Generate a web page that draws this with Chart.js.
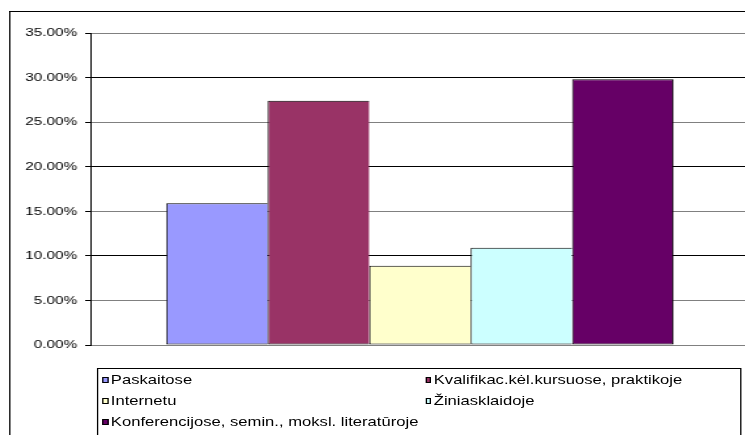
<!DOCTYPE html>
<html lang="lt">
<head>
    <meta charset="UTF-8">
    <title>Informacijos šaltiniai</title>
    <script src="https://cdn.jsdelivr.net/npm/chart.js"></script>
    <style>
        * {
            margin: 0;
            padding: 0;
            box-sizing: border-box;
        }

        html, body {
            width: 745px;
            height: 435px;
            overflow: hidden;
            background: #ffffff;
        }

        /* the original picture is stretched sideways, so draw narrow and widen */
        #stage {
            position: absolute;
            left: 0;
            top: 0;
            width: 580px;
            height: 435px;
            transform: scaleX(1.31);
            transform-origin: 0 0;
            font-family: 'Liberation Sans', Arial, sans-serif;
        }

        #chart {
            position: absolute;
            left: 0;
            top: 0;
        }

        .frame {
            position: absolute;
            left: 7px;
            top: 11px;
            width: 1000px;
            height: 1000px;
            border-left: 1px solid #000;
            border-top: 1px solid #000;
            pointer-events: none;
        }

        #legend {
            position: absolute;
            left: 74px;
            top: 368px;
            width: 492px;
            height: 100px;
            border: 1px solid #000;
            padding-left: 3px;
            display: grid;
            grid-template-columns: 246.5px auto;
            grid-auto-rows: 21px;
            font-size: 12.7px;
            color: #000;
        }

        #legend .item {
            display: flex;
            align-items: center;
            white-space: nowrap;
        }

        #legend .box {
            width: 4.6px;
            height: 6px;
            border: 1px solid #000;
            margin-right: 2px;
            flex: none;
        }
    </style>
</head>
<body>
    <div id="stage">
        <canvas id="chart" width="580" height="435"></canvas>
        <div class="frame"></div>
        <div id="legend"></div>
    </div>

    <script>
        // one group of answers, five sources
        const categories = [''];
        const seriesNames = [
            'Paskaitose',
            'Kvalifikac.kėl.kursuose, praktikoje',
            'Internetu',
            'Žiniasklaidoje',
            'Konferencijose, semin., moksl. literatūroje'
        ];
        const seriesValues = [15.9, 27.4, 8.9, 10.9, 29.8];
        const seriesColors = ['#9999FF', '#993366', '#FFFFCC', '#CCFFFF', '#660066'];

        const yMin = 0;
        const yMax = 35;
        const yStep = 5;

        const last = seriesValues.length - 1;
        const datasets = seriesNames.map((name, i) => ({
            label: name,
            data: [seriesValues[i]],
            backgroundColor: seriesColors[i],
            borderColor: '#000000',
            borderWidth: { top: 1, left: 1, bottom: 1, right: i === last ? 1 : 0 },
            borderSkipped: false,
            barPercentage: 1,
            categoryPercentage: 0.77,
        }));

        const ctx = document.getElementById('chart').getContext('2d');
        const chart = new Chart(ctx, {
            type: 'bar',
            data: {
                labels: categories,
                datasets: datasets,
            },
            options: {
                responsive: false,
                animation: false,
                layout: {
                    padding: { left: 0, right: 8, top: 33, bottom: 90 },
                },
                plugins: {
                    legend: { display: false },
                    tooltip: { enabled: false },
                },
                scales: {
                    x: {
                        display: false,
                    },
                    y: {
                        min: yMin,
                        max: yMax,
                        afterFit: (scale) => { scale.width = 69; },
                        border: { display: true, color: '#000000', width: 1 },
                        grid: {
                            color: (c) => (c.index % 2 === 0 && c.index > 0 ? '#000000' : '#808080'),
                            tickColor: '#000000',
                            tickLength: 4,
                            lineWidth: 1,
                        },
                        ticks: {
                            stepSize: yStep,
                            padding: 6,
                            color: '#000000',
                            font: { family: "'Liberation Sans', Arial, sans-serif", size: 11.7 },
                            callback: (v) => v.toFixed(2) + '%',
                        },
                    },
                },
            },
        });

        // legend box in two columns, like the spreadsheet one
        const legend = document.getElementById('legend');
        seriesNames.forEach((name, i) => {
            const item = document.createElement('div');
            item.className = 'item';
            const box = document.createElement('span');
            box.className = 'box';
            box.style.background = seriesColors[i];
            const text = document.createElement('span');
            text.textContent = name;
            item.appendChild(box);
            item.appendChild(text);
            legend.appendChild(item);
        });
    </script>
</body>
</html>
